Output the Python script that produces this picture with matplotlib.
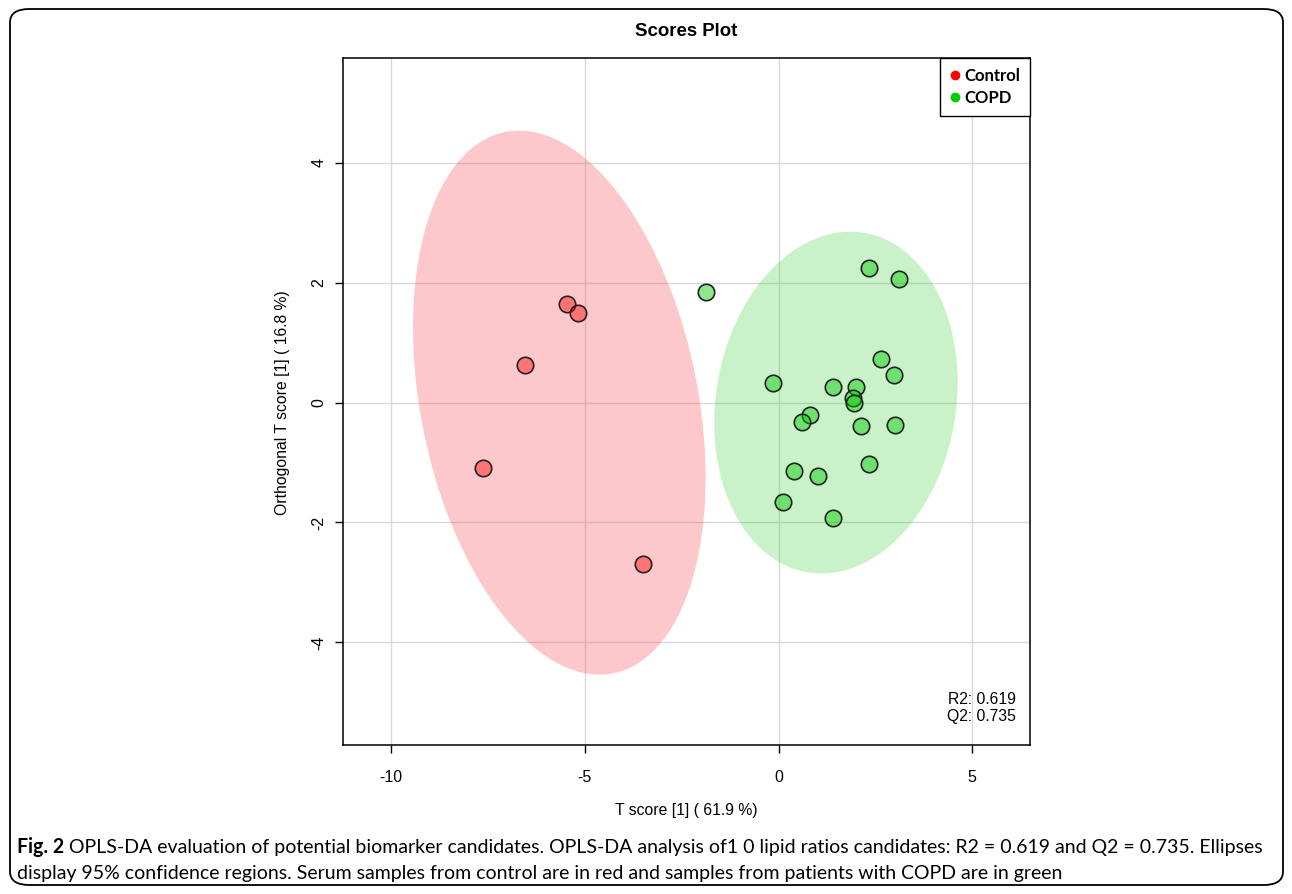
import numpy as np
import matplotlib.pyplot as plt
from matplotlib.patches import Ellipse, FancyBboxPatch
from matplotlib.lines import Line2D

# scores
control_t = [-5.45, -5.17, -6.54, -7.62, -3.51]
control_o = [1.645, 1.49, 0.633, -1.083, -2.69]

copd_t = [-1.88, 2.34, 3.11, 2.65, 2.99, -0.15, 1.40, 1.99, 1.91, 1.95,
          0.80, 0.61, 2.14, 3.01, 2.34, 0.41, 1.02, 0.11, 1.40]
copd_o = [1.845, 2.25, 2.06, 0.72, 0.46, 0.32, 0.26, 0.26, 0.08, -0.01,
          -0.21, -0.32, -0.39, -0.38, -1.02, -1.14, -1.23, -1.65, -1.92]

xticks = [-10, -5, 0, 5]
yticks = [-4, -2, 0, 2, 4]
r2, q2 = 0.619, 0.735

plt.rcParams['font.family'] = ['Liberation Sans', 'DejaVu Sans']


def conf_ellipse(x, y, color, alpha):
    # 95% region from the sample covariance
    x = np.asarray(x); y = np.asarray(y)
    cov = np.cov(x, y)
    vals, vecs = np.linalg.eigh(cov)
    k = -2 * np.log(0.05)
    w = 2 * np.sqrt(k * vals[1])
    h = 2 * np.sqrt(k * vals[0])
    ang = np.degrees(np.arctan2(vecs[1, 1], vecs[0, 1]))
    return Ellipse((x.mean(), y.mean()), w, h, angle=ang,
                   facecolor=color, alpha=alpha, edgecolor='none', zorder=1)


W, H = 1292, 894
fig = plt.figure(figsize=(W / 100, H / 100), dpi=100)

# rounded frame round the whole figure
frame = FancyBboxPatch((10 / W, 9 / H), 1273 / W, 876 / H,
                       boxstyle="round,pad=0,rounding_size=0.015",
                       transform=fig.transFigure, facecolor='none',
                       edgecolor='black', linewidth=1.3)
fig.patches.append(frame)

ax = fig.add_axes([343 / W, 149 / H, 687 / W, 687 / H])
ax.set_xlim(-11.24, 6.49)
ax.set_ylim(-5.71, 5.745)

for v in xticks:
    ax.axvline(v, color='#d9d9d9', lw=1, zorder=0)
for v in yticks:
    ax.axhline(v, color='#d9d9d9', lw=1, zorder=0)

ax.add_patch(conf_ellipse(control_t, control_o, '#FA3C46', 0.28))
ax.add_patch(conf_ellipse(copd_t, copd_o, '#32CD32', 0.26))

ax.scatter(control_t, control_o, s=140, facecolor=(1, 0, 0, 0.42),
           edgecolor='#222222', linewidth=1.2, zorder=3)
ax.scatter(copd_t, copd_o, s=140, facecolor=(0, 0.8, 0, 0.45),
           edgecolor='#222222', linewidth=1.2, zorder=3)

ax.set_xticks(xticks)
ax.set_yticks(yticks)
ax.set_xticklabels([str(t) for t in xticks])
ax.set_yticklabels([str(t) for t in yticks], rotation=90, va='center')
ax.tick_params(axis='both', labelsize=11.5, length=6, width=1, direction='out')
ax.tick_params(axis='x', pad=12)
ax.tick_params(axis='y', pad=6)
for sp in ax.spines.values():
    sp.set_linewidth(1.1)

fig.text(686 / W, 1 - 32 / H, 'Scores Plot', ha='center', va='center',
         fontsize=13.4, fontweight='bold')
fig.text(686 / W, 1 - 810 / H, 'T score [1] ( 61.9 %)', ha='center',
         va='center', fontsize=11.3)
fig.text(282 / W, 1 - 403 / H, 'Orthogonal T score [1] ( 16.8 %)',
         ha='center', va='center', rotation=90, fontsize=11.3)

handles = [Line2D([], [], marker='o', ls='none', color='red', markersize=6),
           Line2D([], [], marker='o', ls='none', color='#00CD00', markersize=6)]
leg = ax.legend(handles, ['Control', 'COPD'], loc='upper right',
                borderaxespad=0, fancybox=False, framealpha=1,
                edgecolor='black', handlelength=0.6, handletextpad=0.25,
                borderpad=0.6, labelspacing=0.35,
                prop={'family': ['Lato', 'DejaVu Sans'], 'weight': 'bold',
                      'size': 12})
leg.get_frame().set_linewidth(1)
leg.set_zorder(5)

ax.text(0.98, 0.066, 'R2: %.3f' % r2, transform=ax.transAxes, ha='right',
        va='center', fontsize=11.3)
ax.text(0.98, 0.041, 'Q2: %.3f' % q2, transform=ax.transAxes, ha='right',
        va='center', fontsize=11.3)

# caption: fit the first line to the width seen in the picture
cap_font = ['Lato', 'DejaVu Sans']
line1 = ('OPLS-DA evaluation of potential biomarker candidates. OPLS-DA '
         'analysis of1 0 lipid ratios candidates: R2 = 0.619 and Q2 = 0.735. '
         'Ellipses')
line2 = ('display 95% confidence regions. Serum samples from control are in '
         'red and samples from patients with COPD are in green')
x0, x1 = 17, 1265
y1, y2 = 1 - 847 / H, 1 - 874 / H

size = 14
fig.canvas.draw()
r = fig.canvas.get_renderer()
for _ in range(3):
    tb = fig.text(x0 / W, y1, 'Fig. 2 ', fontsize=size, fontweight='bold',
                  va='center', family=cap_font)
    tt = fig.text(0, y1, line1, fontsize=size, va='center', family=cap_font)
    wb = tb.get_window_extent(r).width
    wt = tt.get_window_extent(r).width
    tb.remove(); tt.remove()
    size = size * (x1 - x0) / (wb + wt)

tb = fig.text(x0 / W, y1, 'Fig. 2 ', fontsize=size, fontweight='bold',
              va='center', family=cap_font)
wb = tb.get_window_extent(r).width
fig.text((x0 + wb) / W, y1, line1, fontsize=size, va='center', family=cap_font)
fig.text(x0 / W, y2, line2, fontsize=size, va='center', family=cap_font)

fig.savefig('out.png', dpi=100)
